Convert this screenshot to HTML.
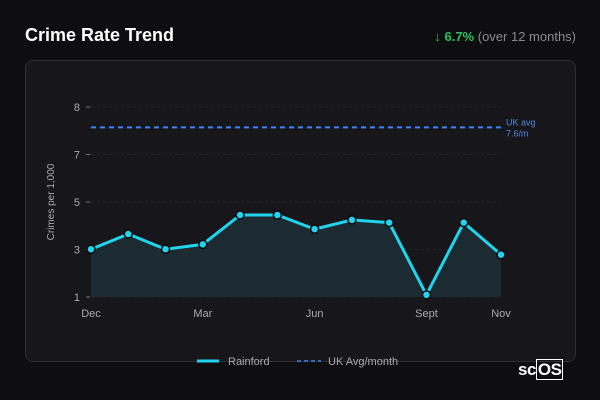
<!DOCTYPE html>
<html><head><meta charset="utf-8"><style>
body{margin:0;width:600px;height:400px;background:#0e0e11;font-family:"Liberation Sans",sans-serif;overflow:hidden;position:relative}
.title{position:absolute;left:25px;top:25px;color:#fff;font-weight:bold;font-size:18px}
.chg{position:absolute;right:24px;top:29px;font-size:13px;color:#8a8a90}
.chg b{color:#22c55e}
.card{position:absolute;left:25px;top:60px;width:549px;height:300px;border:1px solid #2d2d33;border-radius:8px;background:#17171b}
svg{position:absolute;left:0;top:0}
.logo{position:absolute;left:518px;top:360px;color:#fff;font-size:17px;font-weight:bold;letter-spacing:-0.5px}
.logo span{border:1px solid #fff;color:#fff;padding:0 1px}
</style></head><body>
<div class="title">Crime Rate Trend</div>
<div class="chg"><b>↓ 6.7%</b> (over 12 months)</div>
<div class="card"></div>
<svg id="chart" width="600" height="400"></svg>
<div class="logo">sc<span>OS</span></div>
<script>
const categories=["Dec","Jan","Feb","Mar","Apr","May","Jun","Jul","Aug","Sept","Oct","Nov"];
const xLabels=["Dec","Mar","Jun","Sept","Nov"];
const values=[2.76,3.32,2.76,2.94,4.02,4.02,3.5,3.84,3.74,1.08,3.74,2.56];
const yTicks=[1,2.75,4.5,6.25,8];
const yTickLabels=["1","3","5","7","8"];
const ukAvg=[7.25];
const ukAvgLabel=["UK avg","7.6/m"];
const NS="http://www.w3.org/2000/svg";
const svg=document.getElementById('chart');
const x0=91,x1=501,yB=297,yT=107,vMin=1,vMax=8;
const xs=i=>x0+i*(x1-x0)/(categories.length-1);
const ys=v=>yB-(v-vMin)/(vMax-vMin)*(yB-yT);
function mk(t,a){const e=document.createElementNS(NS,t);for(const k in a)e.setAttribute(k,a[k]);svg.appendChild(e);return e;}
yTicks.forEach((t,i)=>{
 const g=mk('line',{x1:x0,x2:x1,y1:ys(t),y2:ys(t),stroke:'#25252a','stroke-dasharray':'3,3'});
 
 
 const tk=mk('line',{x1:86,x2:90,y1:ys(t),y2:ys(t),stroke:'#777'});
 
 
 const l=mk('text',{x:80,y:ys(t)+4,'text-anchor':'end',fill:'#aaa','font-size':'11'});
 l.textContent=yTickLabels[i];
 
 
});
const yt=mk('text',{x:0,y:0,transform:'translate(54,202) rotate(-90)','text-anchor':'middle',fill:'#aaa','font-size':'10'});
yt.textContent='Crimes per 1,000';


xLabels.forEach(lb=>{
 const i=categories.indexOf(lb);
 const t=mk('text',{x:xs(i),y:317,'text-anchor':'middle',fill:'#aaa','font-size':'11'});
 t.textContent=lb;
 
 
});
const pts=values.map((v,i)=>xs(i)+','+ys(v));
const area=mk('polygon',{points:x0+','+yB+' '+pts.join(' ')+' '+x1+','+yB,fill:'#1b2b31'});


const uk=mk('line',{x1:x0,x2:x1,y1:ys(ukAvg[0]),y2:ys(ukAvg[0]),stroke:'#3b82f6','stroke-width':2,'stroke-dasharray':'5,4'});


ukAvgLabel.forEach((s,i)=>{
 const t=mk('text',{x:506,y:ys(ukAvg[0])-2+i*11,fill:'#4c86e0','font-size':'9'});
 t.textContent=s;
 
 
});
const line=mk('polyline',{points:pts.join(' '),fill:'none',stroke:'#22d3ee','stroke-width':3,'stroke-linejoin':'round'});


values.forEach((v,i)=>{
 const c=mk('circle',{cx:xs(i),cy:ys(v),r:4,fill:'#22d3ee',stroke:'#0a0a0c','stroke-width':1.5});
 
 
});
const l1=mk('line',{x1:197,x2:219,y1:361,y2:361,stroke:'#22d3ee','stroke-width':3});


const t1=mk('text',{x:228,y:365,fill:'#aaa','font-size':'11'});t1.textContent='Rainford';


const l2=mk('line',{x1:297,x2:321,y1:361,y2:361,stroke:'#3b82f6','stroke-width':1.5,'stroke-dasharray':'4,3'});


const t2=mk('text',{x:328,y:365,fill:'#aaa','font-size':'11'});t2.textContent='UK Avg/month';


</script>
</body></html>
